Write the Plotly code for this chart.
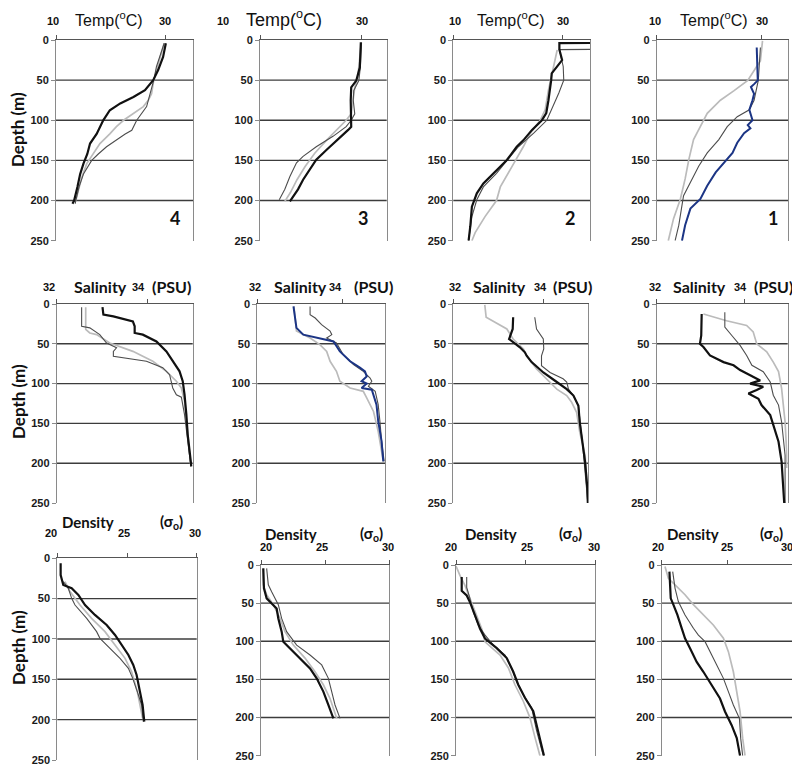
import plotly.graph_objects as go

# ---------------- DATA (depth in m, value) ----------------
# Temperature (deg C) - stations 4,3,2,1 (columns left->right)
t4_black_z = [4, 21, 37.5, 50, 62.5, 71, 79, 87.5, 100, 108, 117, 129, 142, 154, 167, 183, 200, 204]
t4_black = [30.0, 29.5, 28.6, 27.7, 26.2, 24.1, 21.7, 19.8, 18.6, 18.0, 17.4, 16.2, 15.7, 15.0, 14.4, 13.9, 13.3, 13.0]
t4_dark_z = [4, 33, 50, 67, 83, 100, 112.5, 117, 125, 133, 142, 150, 167, 183, 200, 204]
t4_dark = [29.7, 28.3, 27.8, 27.1, 26.5, 24.7, 23.8, 22.6, 21.0, 19.2, 17.7, 16.5, 15.0, 14.2, 13.6, 13.5]
t4_light_z = [4, 50, 67, 75, 83, 92, 100, 108, 117, 129, 142, 154, 171, 200]
t4_light = [29.7, 27.8, 27.4, 26.8, 25.9, 24.1, 22.3, 21.0, 19.8, 18.0, 16.8, 15.6, 14.7, 13.6]

t3_black_z = [3, 34, 50.6, 59, 75, 100, 108, 112, 125, 137, 149, 162, 174, 186, 199, 201]
t3_black = [29.9, 29.7, 29.0, 28.0, 27.9, 28.0, 28.0, 27.4, 25.1, 23.1, 21.1, 19.8, 18.5, 17.5, 16.2, 15.9]
t3_dark_z = [3, 34, 50.6, 63, 75, 92, 100, 108, 120, 133, 145, 153, 170, 186, 199]
t3_dark = [30.0, 29.8, 29.5, 28.5, 28.4, 28.7, 28.0, 27.0, 24.4, 21.1, 18.5, 17.2, 15.9, 14.9, 13.8]
t3_light_z = [3, 46, 59, 92, 100, 112, 125, 141, 157.5, 174, 190, 201]
t3_light = [30.0, 29.3, 28.7, 28.0, 27.0, 25.1, 23.1, 20.8, 18.9, 17.3, 16.0, 14.9]

t2_black_z = [3.5, 4, 12, 25, 41.5, 50, 75, 91, 100, 112, 125, 133, 149.5, 162, 178.6, 191, 207.6, 232.6, 250]
t2_black = [40.0, 29.4, 29.4, 29.9, 28.0, 27.9, 27.4, 27.0, 26.2, 24.4, 22.8, 21.6, 19.8, 18.0, 15.5, 14.3, 13.4, 13.1, 12.8]
t2_dark_z = [11.5, 12, 33, 50, 66, 87, 100, 116, 133, 149.5, 166, 183, 199, 220, 250]
t2_dark = [40.0, 29.4, 30.1, 30.2, 29.3, 28.0, 27.1, 24.7, 21.9, 19.9, 17.9, 15.5, 14.3, 13.4, 12.8]
t2_light_z = [12.5, 33, 50, 62.5, 87, 100, 116, 133, 158, 183, 200, 220, 240, 250]
t2_light = [29.0, 28.3, 27.7, 27.4, 26.8, 25.9, 24.1, 22.8, 20.7, 18.6, 17.9, 15.8, 14.0, 13.4]

t1_blue_z = [9.4, 50.4, 55, 58.6, 67, 75, 87, 100, 106, 110, 116, 128, 140.6, 153, 165, 181.5, 198, 210, 230.7, 250]
t1_blue = [29.0, 29.2, 28.5, 27.9, 28.5, 28.2, 27.6, 28.2, 27.3, 27.8, 26.6, 25.3, 24.4, 22.8, 21.2, 19.6, 18.3, 16.4, 15.4, 14.8]
t1_dark_z = [9.4, 50.4, 75, 87, 95.5, 108, 124, 140.6, 157, 181.5, 194, 206, 230.7, 250]
t1_dark = [29.7, 29.3, 28.5, 27.6, 25.3, 23.4, 21.8, 19.6, 18.0, 16.1, 15.1, 14.8, 14.2, 13.5]
t1_light_z = [1, 26, 34, 50.4, 63, 75, 91.4, 108, 124, 149, 173, 198, 222.5, 250]
t1_light = [30.1, 29.7, 28.9, 27.3, 24.7, 22.1, 19.6, 18.3, 17.0, 16.1, 15.4, 14.5, 13.2, 12.2]

# Salinity (PSU)
s4_black_z = [4, 13.4, 15.5, 21.8, 28, 36.4, 38.5, 47, 59.5, 72, 84.6, 97, 114, 139, 164, 189, 204]
s4_black = [33.01, 33.03, 33.25, 33.68, 33.72, 33.72, 33.90, 34.20, 34.42, 34.56, 34.71, 34.78, 34.82, 34.86, 34.89, 34.94, 34.97]
s4_dark_z = [4, 28, 30, 38.5, 49, 55, 59.5, 65.8, 72, 80, 88.8, 97, 105.5, 114, 117, 139, 189, 204]
s4_dark = [32.55, 32.55, 32.73, 32.95, 33.10, 33.32, 33.25, 33.25, 33.98, 34.34, 34.49, 34.53, 34.56, 34.64, 34.75, 34.82, 34.93, 34.96]
s4_light_z = [4, 32, 36.4, 38.5, 49, 59.5, 72, 84.6, 97, 105.5, 122, 147, 189, 204]
s4_light = [32.64, 32.64, 32.73, 32.88, 33.17, 33.68, 34.12, 34.42, 34.64, 34.75, 34.82, 34.86, 34.93, 34.96]

s3_blue_z = [3, 21.8, 30, 38.5, 42.7, 47, 59.5, 72, 80, 84.6, 91, 97, 100, 105.5, 107.6, 114, 126.5, 147, 172.5, 197.7]
s3_blue = [32.85, 32.89, 32.92, 33.08, 33.47, 33.79, 33.94, 34.18, 34.41, 34.53, 34.57, 34.45, 34.57, 34.45, 34.69, 34.73, 34.80, 34.84, 34.92, 34.96]
s3_dark_z = [3, 13.4, 17.6, 26, 34, 38.5, 42.7, 49, 63.7, 76, 84.6, 93, 97, 103.4, 109.7, 126.5, 147, 172.5, 197.7]
s3_dark = [33.24, 33.24, 33.36, 33.51, 33.71, 33.75, 33.63, 33.86, 34.02, 34.26, 34.49, 34.65, 34.69, 34.61, 34.77, 34.84, 34.88, 34.92, 34.98]
s3_light_z = [3, 34, 42.7, 51, 59.5, 72, 84.6, 97, 105.5, 109.7, 118, 135, 160, 189, 197.7]
s3_light = [32.86, 32.92, 33.24, 33.47, 33.63, 33.71, 33.86, 33.94, 34.18, 34.49, 34.57, 34.73, 34.84, 34.92, 34.96]

s2_black_z = [16.7, 31.4, 44, 48, 54.4, 60.7, 65, 73, 86, 98, 107, 115, 128, 148.7, 174, 199, 232, 250]
s2_black = [33.33, 33.32, 33.24, 33.33, 33.48, 33.59, 33.63, 33.74, 34.0, 34.30, 34.52, 34.67, 34.78, 34.81, 34.87, 34.93, 34.98, 34.99]
s2_dark_z = [16.7, 31.4, 44, 56.5, 65, 77.5, 86, 94, 98, 107, 115, 128, 174, 250]
s2_dark = [33.81, 33.85, 34.0, 34.01, 33.96, 33.96, 34.15, 34.44, 34.52, 34.56, 34.67, 34.78, 34.87, 34.99]
s2_light_z = [1, 16.7, 31.4, 44, 56.5, 65, 81.7, 98, 107, 115, 123.5, 136, 161, 190.6, 250]
s2_light = [32.70, 32.73, 33.19, 33.33, 33.56, 33.63, 33.85, 34.15, 34.30, 34.52, 34.63, 34.74, 34.81, 34.93, 34.99]

s1_black_z = [12.5, 39.6, 50, 54, 64.6, 73, 77, 83, 89.6, 96, 100, 104, 108, 112.5, 119, 127, 139.6, 152, 173, 198, 231, 250]
s1_black = [33.03, 33.02, 32.99, 33.07, 33.22, 33.53, 33.76, 33.91, 34.14, 34.37, 34.14, 34.44, 34.29, 34.10, 34.33, 34.40, 34.60, 34.67, 34.79, 34.86, 34.90, 34.92]
s1_dark_z = [10.4, 29, 39.6, 52, 64.6, 77, 85, 98, 114.6, 127, 148, 190, 250]
s1_dark = [33.56, 33.56, 33.72, 33.91, 34.06, 34.18, 34.44, 34.60, 34.67, 34.79, 34.86, 34.94, 34.94]
s1_light_z = [12.5, 21, 27, 35, 50, 60, 73, 85, 106, 148, 190, 206]
s1_light = [33.07, 33.60, 34.06, 34.21, 34.29, 34.52, 34.67, 34.79, 34.86, 34.94, 34.98, 34.98]

# Density (sigma-t)
d4_black_z = [6.2, 20.7, 33.1, 37.2, 45.5, 57.9, 70.2, 82.6, 95.0, 107.4, 119.8, 132.2, 144.6, 165.3, 181.8, 202.5]
d4_black = [20.24, 20.24, 20.43, 21.03, 21.51, 21.99, 22.70, 23.54, 24.14, 24.62, 25.10, 25.45, 25.69, 25.93, 26.12, 26.24]
d4_dark_z = [28.9, 37.2, 49.6, 57.9, 74.4, 90.9, 99.2, 111.6, 124.0, 136.4, 148.8, 165.3, 181.8, 202.5]
d4_dark = [20.43, 20.79, 21.03, 21.27, 22.11, 22.82, 23.06, 23.78, 24.50, 25.10, 25.41, 25.74, 26.05, 26.17]
d4_light_z = [28.9, 41.3, 57.9, 74.4, 90.9, 107.4, 124.0, 140.5, 165.3, 198.3]
d4_light = [20.55, 20.91, 21.63, 22.46, 23.42, 24.14, 24.86, 25.33, 25.74, 26.12]

d3_black_z = [4.4, 30.6, 43.7, 50, 57, 70, 87.4, 100.5, 109, 122, 135.5, 148.6, 166, 183.5, 201]
d3_black = [20.18, 20.23, 20.44, 20.83, 21.22, 21.35, 21.61, 21.74, 22.26, 23.04, 23.82, 24.34, 24.86, 25.25, 25.64]
d3_dark_z = [4.4, 26, 35, 52, 70, 87.4, 105, 118, 131, 148.6, 166, 183.5, 201]
d3_dark = [20.44, 20.57, 20.83, 21.35, 21.61, 22.0, 22.78, 23.82, 24.73, 25.25, 25.51, 25.77, 26.16]
d3_light_z = [4, 26, 39, 52, 70, 87.4, 105, 122, 140, 157, 175, 201]
d3_light = [20.15, 20.18, 20.44, 20.96, 21.48, 21.87, 22.52, 23.43, 24.21, 24.86, 25.38, 25.90]

d2_black_z = [15.6, 33.7, 40, 49, 66, 83.5, 96.5, 109, 122, 140, 157, 174, 191.6, 217.5, 243.5, 250]
d2_black = [20.41, 20.41, 20.77, 21.01, 21.37, 21.73, 22.09, 22.93, 23.65, 24.12, 24.48, 24.96, 25.56, 25.92, 26.28, 26.33]
d2_dark_z = [15.6, 29.4, 44.5, 62, 79, 92, 105, 118, 135, 152.7, 170, 187, 217.5, 250]
d2_dark = [20.77, 20.77, 21.01, 21.25, 21.61, 22.09, 22.69, 23.53, 24.0, 24.36, 24.84, 25.44, 25.80, 26.28]
d2_light_z = [1.3, 14, 27, 44.5, 66, 83.5, 100.8, 118, 135, 157, 178.6, 200, 226, 250]
d2_light = [20.0, 20.29, 20.65, 21.01, 21.49, 21.85, 22.09, 23.17, 23.77, 24.24, 24.84, 25.32, 25.68, 26.04]

d1_black_z = [8.7, 30.6, 43.7, 52, 65.5, 83, 96, 109, 127, 140, 157, 175, 192, 210, 227, 250]
d1_black = [20.59, 20.64, 20.69, 20.89, 21.20, 21.53, 21.78, 22.16, 22.67, 23.18, 23.82, 24.45, 24.83, 25.34, 25.73, 25.98]
d1_dark_z = [8.7, 30.6, 48, 65.5, 83, 92, 100.5, 113.6, 131, 148.6, 166, 183.5, 201, 227, 250]
d1_dark = [20.84, 21.02, 21.27, 21.78, 22.42, 22.80, 23.31, 23.69, 24.20, 24.71, 25.09, 25.47, 25.93, 26.03, 26.18]
d1_light_z = [2, 17.5, 26, 39, 52, 65.5, 78.7, 96, 113.6, 140, 166, 192, 227, 250]
d1_light = [20.25, 20.51, 21.02, 21.78, 22.42, 23.18, 23.94, 24.71, 25.09, 25.47, 25.73, 25.98, 26.18, 26.36]

depth_ticks = [0, 50, 100, 150, 200, 250]
station_labels = ["4", "3", "2", "1"]

# ---------------- STYLE ----------------
# The page body keeps its default 8px margin, so the figure is drawn 8px smaller
# and every position below (given in window pixels) is offset by that margin.
OFF = 8
W, H = 800 - OFF, 765 - OFF
BLACK = dict(color="#111111", width=2.2)
BLUE = dict(color="#1c3585", width=2.0)
DARK = dict(color="#4d4d4d", width=1.1)
LIGHT = dict(color="#bbbbbb", width=1.7)
NUM = "Liberation Sans, Arial, sans-serif"
CAL = "Lato, Open Sans, sans-serif"


def fx(px):
    return (px - OFF) / W


def fy(py):
    return 1 - (py - OFF) / H


panels = [
    dict(x=(56, 193.3), y=(40, 240.7), rng=[10, 35], tv=[10, 30],
         series=[(t4_light_z, t4_light, LIGHT), (t4_dark_z, t4_dark, DARK), (t4_black_z, t4_black, BLACK)]),
    dict(x=(260, 386.7), y=(40, 240.7), rng=[10, 35], tv=[10, 30],
         series=[(t3_light_z, t3_light, LIGHT), (t3_dark_z, t3_dark, DARK), (t3_black_z, t3_black, BLACK)]),
    dict(x=(453.3, 590), y=(40, 240.7), rng=[10, 35], tv=[10, 30],
         series=[(t2_light_z, t2_light, LIGHT), (t2_dark_z, t2_dark, DARK), (t2_black_z, t2_black, BLACK)]),
    dict(x=(656.7, 788.3), y=(40, 240.7), rng=[10, 35], tv=[10, 30],
         series=[(t1_light_z, t1_light, LIGHT), (t1_dark_z, t1_dark, DARK), (t1_blue_z, t1_blue, BLUE)]),
    dict(x=(56.7, 192.7), y=(304, 503), rng=[32, 35], tv=[32, 34],
         series=[(s4_light_z, s4_light, LIGHT), (s4_dark_z, s4_dark, DARK), (s4_black_z, s4_black, BLACK)]),
    dict(x=(257.3, 385), y=(304, 503), rng=[32, 35], tv=[32, 34],
         series=[(s3_light_z, s3_light, LIGHT), (s3_dark_z, s3_dark, DARK), (s3_blue_z, s3_blue, BLUE)]),
    dict(x=(453.3, 588.3), y=(304, 503), rng=[32, 35], tv=[32, 34],
         series=[(s2_light_z, s2_light, LIGHT), (s2_dark_z, s2_dark, DARK), (s2_black_z, s2_black, BLACK)]),
    dict(x=(656.7, 787.7), y=(304, 503), rng=[32, 35], tv=[32, 34],
         series=[(s1_light_z, s1_light, LIGHT), (s1_dark_z, s1_dark, DARK), (s1_black_z, s1_black, BLACK)]),
    dict(x=(57.3, 196.7), y=(558.3, 760), rng=[20, 30], tv=[20, 25, 30],
         series=[(d4_light_z, d4_light, LIGHT), (d4_dark_z, d4_dark, DARK), (d4_black_z, d4_black, BLACK)]),
    dict(x=(261, 389.3), y=(565, 755.7), rng=[20, 30], tv=[20, 25, 30],
         series=[(d3_light_z, d3_light, LIGHT), (d3_dark_z, d3_dark, DARK), (d3_black_z, d3_black, BLACK)]),
    dict(x=(456, 595), y=(565, 755.7), rng=[20, 30], tv=[20, 25, 30],
         series=[(d2_light_z, d2_light, LIGHT), (d2_dark_z, d2_dark, DARK), (d2_black_z, d2_black, BLACK)]),
    dict(x=(661.7, 792.7), y=(565, 755.7), rng=[20, 30], tv=[20, 25, 30],
         series=[(d1_light_z, d1_light, LIGHT), (d1_dark_z, d1_dark, DARK), (d1_black_z, d1_black, BLACK)]),
]

fig = go.Figure()
layout = dict(width=W, height=H, margin=dict(l=0, r=0, t=0, b=0, pad=0, autoexpand=False),
              paper_bgcolor="white", plot_bgcolor="white", showlegend=False)
shapes = []

for k, p in enumerate(panels, start=1):
    xa = "x" if k == 1 else f"x{k}"
    ya = "y" if k == 1 else f"y{k}"
    for z, v, style in p["series"]:
        fig.add_trace(go.Scatter(x=v, y=z, mode="lines", line=style,
                                 xaxis=xa, yaxis=ya, hoverinfo="skip"))
    layout["xaxis" if k == 1 else f"xaxis{k}"] = dict(
        domain=[fx(p["x"][0]), fx(p["x"][1])], range=p["rng"], side="top",
        anchor=ya, showgrid=False, zeroline=False, showticklabels=False, automargin=False,
        showline=True, linecolor="#555555", linewidth=1.3,
        ticks="outside", tickvals=p["tv"], ticklen=4, tickcolor="#555555")
    layout["yaxis" if k == 1 else f"yaxis{k}"] = dict(
        domain=[fy(p["y"][1]), fy(p["y"][0])], range=[250, 0], anchor=xa, automargin=False,
        showgrid=False, zeroline=False, showline=True, linecolor="#8a8a8a",
        linewidth=1, mirror=True, ticks="outside", ticklen=4, tickcolor="#8a8a8a",
        tickvals=depth_ticks, ticktext=[str(t) for t in depth_ticks],
        ticklabeloverflow="allow",
        tickfont=dict(family=NUM, size=11, color="#1a1a1a", weight="bold"))
    for d in depth_ticks[1:-1]:
        shapes.append(dict(type="line", xref=f"{xa} domain", yref=ya, x0=0, x1=1,
                           y0=d, y1=d, line=dict(color="#3c3c3c", width=1.4), layer="below"))

ann = []


def add(text, x, y, size, family=NUM, weight="normal", angle=0):
    ann.append(dict(text=text, x=fx(x), y=fy(y), xref="paper", yref="paper",
                    showarrow=False, xanchor="center", yanchor="middle", textangle=angle,
                    font=dict(family=family, size=size, color="#111111", weight=weight)))


temp_title = "Temp(<sup>o</sup>C)"
for x10, xt, x30, fs in [(53, 109, 165, 16), (223, 284, 362, 18), (455, 511, 563, 16), (655, 714, 762, 16)]:
    add("10", x10, 21, 11, weight="bold")
    add(temp_title, xt, 19, fs)
    add("30", x30, 21, 11, weight="bold")

for x32, xs, x34, xp in [(49, 100, 138, 171), (255, 300, 335, 373), (455, 499, 540, 572), (655, 699, 740, 773)]:
    add("32", x32, 287, 11, weight="bold")
    add("Salinity", xs, 286, 16, family=CAL, weight="bold")
    add("34", x34, 287, 11, weight="bold")
    add("(PSU)", xp, 286, 16, family=CAL, weight="bold")

for (x20, xd, x25, xsg, x30, yd, yn) in [(51, 88, 124, 171, 195, 522, 533),
                                         (266, 291, 322, 371, 388, 534, 547),
                                         (451, 491, 527, 570, 594, 534, 547),
                                         (658, 693, 727, 771, 787, 534, 547)]:
    add("20", x20, yn, 11, weight="bold")
    add("Density", xd, yd, 15, family=CAL, weight="bold")
    add("25", x25, yn, 11, weight="bold")
    add("(σ<sub>o</sub>)", xsg, yd, 15, family=CAL, weight="bold")
    add("30", x30, yn, 11, weight="bold")

for yc in [130, 402, 648]:
    add("Depth (m)", 18, yc, 17, family=CAL, weight="bold", angle=-90)

for lab, x in zip(station_labels, [175, 363, 570, 773]):
    add(lab, x, 218, 18, family=CAL, weight="bold")

layout["annotations"] = ann
layout["shapes"] = shapes
fig.update_layout(**layout)
fig.write_html("out.html")
